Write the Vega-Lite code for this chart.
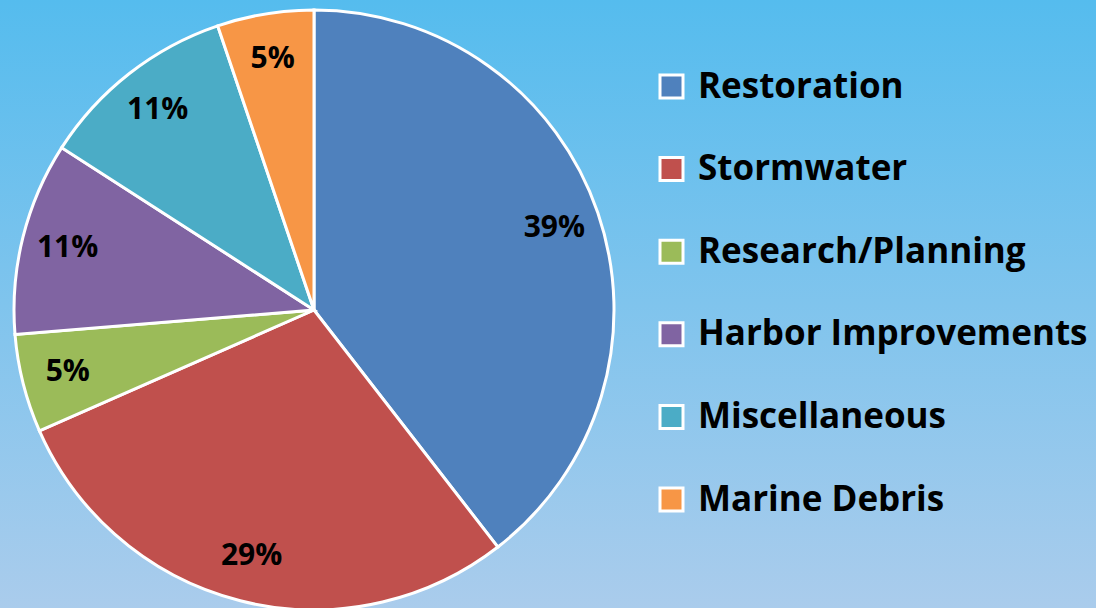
{
  "$schema": "https://vega.github.io/schema/vega-lite/v6.json",
  "width": 1096,
  "height": 608,
  "autosize": {"type": "none"},
  "padding": 0,
  "background": "#AACCEC",
  "config": {
    "view": {"stroke": null},
    "font": "Open Sans"
  },
  "data": {
    "values": [
      {"category": "Restoration", "share": 39.5, "label": "39%", "order": 1},
      {"category": "Stormwater", "share": 28.9, "label": "29%", "order": 2},
      {"category": "Research/Planning", "share": 5.3, "label": "5%", "order": 3},
      {"category": "Harbor Improvements", "share": 10.4, "label": "11%", "order": 4},
      {"category": "Miscellaneous", "share": 10.7, "label": "11%", "order": 5},
      {"category": "Marine Debris", "share": 5.2, "label": "5%", "order": 6}
    ]
  },
  "layer": [
    {
      "data": {"values": [{"bg": 1}]},
      "mark": {
        "type": "rect",
        "fill": {"gradient": "linear", "x1": 0, "y1": 0, "x2": 0, "y2": 1,
          "stops": [{"offset": 0, "color": "#55BCEE"}, {"offset": 1, "color": "#AACCEC"}]}
      },
      "encoding": {
        "x": {"value": 0},
        "x2": {"value": "width"},
        "y": {"value": 0},
        "y2": {"value": "height"}
      }
    },
    {
      "mark": {"type": "arc", "outerRadius": 300, "x": 314, "y": 310, "stroke": "white", "strokeWidth": 3},
      "encoding": {
        "theta": {"field": "share", "type": "quantitative", "stack": true},
        "order": {"field": "order", "type": "quantitative"},
        "color": {
          "field": "category", "type": "nominal",
          "sort": ["Restoration", "Stormwater", "Research/Planning", "Harbor Improvements", "Miscellaneous", "Marine Debris"],
          "scale": {
            "domain": ["Restoration", "Stormwater", "Research/Planning", "Harbor Improvements", "Miscellaneous", "Marine Debris"],
            "range": ["#4F81BD", "#C0504D", "#9BBB59", "#8064A2", "#4BACC6", "#F79646"]
          },
          "legend": {
            "title": null,
            "orient": "none",
            "legendX": 654,
            "legendY": 69,
            "symbolType": "square",
            "symbolSize": 529,
            "symbolStrokeColor": "white",
            "symbolStrokeWidth": 3,
            "symbolOpacity": 1,
            "labelFont": "Open Sans",
            "labelFontSize": 35,
            "labelFontWeight": "bold",
            "labelColor": "#000000",
            "labelOffset": 9,
            "labelLimit": 500,
            "rowPadding": 46.6,
            "padding": 0
          }
        }
      }
    },
    {
      "mark": {"type": "text", "radius": 254, "x": 314, "y": 310, "font": "Open Sans", "fontSize": 30, "fontWeight": "bold", "color": "#000000"},
      "encoding": {
        "theta": {"field": "share", "type": "quantitative", "stack": true},
        "order": {"field": "order", "type": "quantitative"},
        "text": {"field": "label", "type": "nominal"}
      }
    }
  ]
}
